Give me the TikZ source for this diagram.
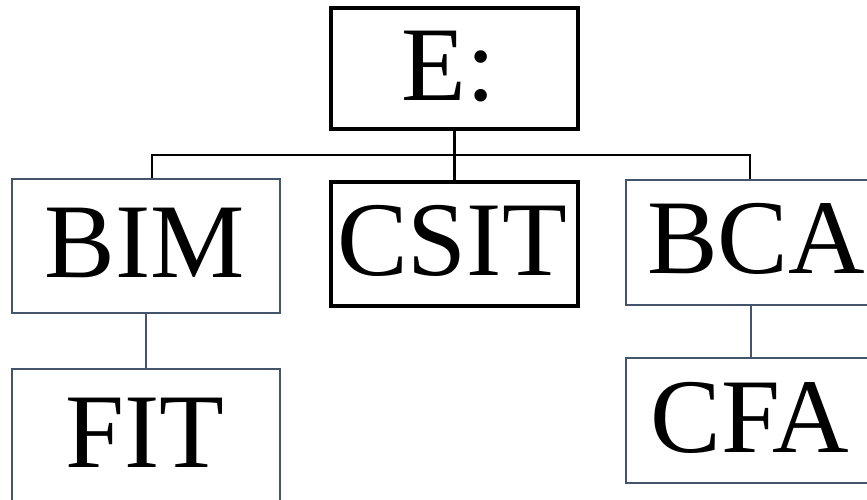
\documentclass[tikz,border=0pt]{standalone}
\usepackage{fontspec}
\setmainfont{Liberation Serif}
\definecolor{slate}{HTML}{44546A}
\begin{document}
\begin{tikzpicture}[x=1pt,y=-1pt,
  blackbox/.style={draw=black,line width=3.6pt,rectangle,inner sep=0pt,anchor=north west},
  slatebox/.style={draw=slate,line width=2.4pt,rectangle,inner sep=0pt,anchor=north west},
  lbl/.style={font=\fontsize{106}{106}\selectfont,inner sep=0pt,anchor=base},
  tree/.style={draw=black,line width=2.4pt},
  sub/.style={draw=slate,line width=2.4pt}]
\useasboundingbox[fill=white] (0,0) rectangle (867,499);
\begin{scope}
\clip (0,0) rectangle (867,499);
% boxes
\node[blackbox,minimum width=247pt,minimum height=121pt] (e) at (329,6) {};
\node[slatebox,minimum width=268pt,minimum height=134pt] (bim) at (11,178) {};
\node[blackbox,minimum width=247pt,minimum height=124pt] (csit) at (329,180) {};
\node[slatebox,minimum width=250pt,minimum height=125pt] (bca) at (625,179) {};
\node[slatebox,minimum width=268pt,minimum height=150pt] (fit) at (11,368) {};
\node[slatebox,minimum width=250pt,minimum height=125pt] (cfa) at (625,357) {};
% labels
\node[lbl] (et) at (449,100) {E:};
\node[lbl] (bimt) at (145,277) {BIM};
\node[lbl] (csitt) at (452,275) {CSIT};
\node[lbl] (bcat) at (756,273) {BCA};
\node[lbl] (fitt) at (145,467) {FIT};
\node[lbl] (cfat) at (750,452) {CFA};
% connectors
\coordinate (busL) at (152,155);
\coordinate (busR) at (750,155);
\draw[tree] (e.south) -- (csit.north);
\draw[tree] (busL |- bim.north) -- (busL) -- (busR) -- (busR |- bca.north);
\draw[sub] (bim.south) -- (fit.north);
\draw[sub] (bca.south) -- (cfa.north);
\end{scope}
\end{tikzpicture}
\end{document}
